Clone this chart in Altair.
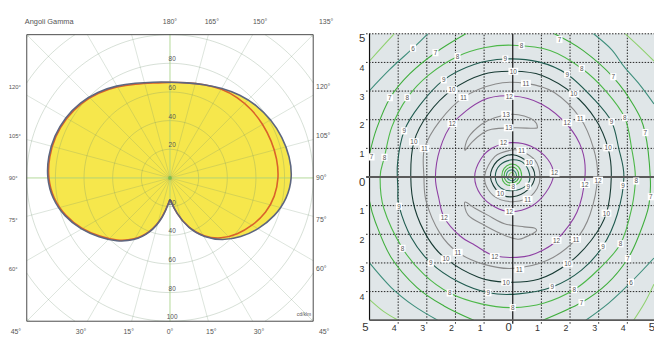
import math
import numpy as np
import pandas as pd
import altair as alt

FONT = "Liberation Sans"

# ---------------- data: polar intensity diagram (cd/klm) ----------------
GAMMA = [0, 10, 20, 30, 40, 50, 60, 70, 80, 90, 100, 110, 120, 130, 140, 150, 160, 170, 180]
C0 = [14.9, 25.0, 37.5, 48.0, 57.0, 64.5, 71.5, 78.0, 83.0, 85.5, 85.0, 83.5, 81.5, 79.0, 76.0, 72.5, 69.5, 67.5, 66.9]
C180 = [14.9, 28.5, 41.0, 50.5, 58.0, 64.5, 72.0, 78.5, 83.5, 86.0, 86.5, 86.0, 84.5, 82.0, 78.5, 74.5, 70.5, 68.0, 66.9]
C90 = [14.9, 25.0, 37.0, 47.5, 55.5, 61.5, 66.5, 71.5, 74.5, 76.0, 76.0, 75.5, 75.0, 74.5, 73.5, 72.0, 69.5, 67.5, 66.9]
C270 = [14.9, 28.0, 40.4, 49.8, 57.3, 63.8, 71.3, 77.8, 82.8, 85.3, 85.8, 85.3, 83.8, 81.3, 77.8, 73.8, 69.8, 67.3, 66.9]
RINGS = [20, 40, 60, 80, 100, 120, 140]
RAD_TOP = [20, 40, 60, 80]
RAD_BOT = [20, 40, 60, 80, 100]
TOP_ANG = [180, 165, 150, 135]
SIDE_ANG = [120, 105, 90, 75, 60]
BOT_ANG = [-45, -30, -15, 0, 15, 30, 45]

# ---------------- data: isolux contours (x, y in m) ----------------
C5_TL = [(-5.0, 4.05), (-4.55, 4.55), (-4.14, 5.0)]
C5_TR = [(3.93, 5.0), (4.45, 4.52), (4.93, 4.05)]
C5_BR = [(4.22, -5.0), (4.6, -4.4), (4.93, -3.74)]
C5_BL = [(-5.0, -4.28), (-4.5, -4.7), (-4.0, -5.0)]
C6_TL = [(-5.0, 3.02), (-4.3, 3.75), (-3.48, 4.5), (-2.97, 5.0)]
C6_TR = [(2.82, 5.0), (3.45, 4.45), (3.88, 3.86), (4.45, 3.2), (4.93, 2.55)]
C6_BR = [(2.55, -5.0), (3.35, -4.4), (4.13, -3.67), (4.93, -2.83)]
C6_BL = [(-5.0, -3.0), (-4.25, -3.85), (-3.45, -4.5), (-2.62, -5.0)]
C7_R = [(1.45, 5.0), (2.45, 4.42), (3.51, 3.48), (4.25, 2.45), (4.62, 1.55), (4.80, 0.0),
        (4.75, -1.0), (4.40, -2.05), (4.01, -2.86), (3.3, -3.72), (2.40, -4.38), (1.05, -5.0)]
C7_TL = [(-1.64, 5.0), (-2.70, 4.34), (-3.6, 3.6), (-4.28, 2.77), (-4.75, 1.7), (-5.0, 0.8)]
C7_BL = [(-5.0, -0.85), (-4.8, -1.56), (-4.25, -2.8), (-3.35, -3.85), (-2.4, -4.5), (-1.36, -5.0)]
C8 = [(4.28, 0.0), (4.15, 1.0), (3.91, 2.07), (3.25, 3.0), (2.41, 3.79), (1.3, 4.42), (0.0, 4.60),
      (-0.95, 4.52), (-1.93, 4.21), (-2.95, 3.55), (-3.68, 2.77), (-4.22, 1.75), (-4.48, 0.69),
      (-4.63, 0.0), (-4.50, -1.1), (-3.85, -2.49), (-3.1, -3.4), (-2.20, -4.05), (-1.1, -4.43),
      (0.0, -4.56), (1.1, -4.40), (2.15, -3.93), (3.0, -3.22), (3.76, -2.33), (4.15, -1.1)]
C9 = [(3.88, 0.0), (3.70, 1.0), (3.45, 1.93), (2.85, 2.7), (1.9, 3.59), (0.9, 4.02), (-0.26, 4.12),
      (-1.35, 3.93), (-2.41, 3.39), (-3.25, 2.5), (-3.79, 1.61), (-4.02, 0.5), (-4.01, -0.4),
      (-3.97, -1.02), (-3.55, -2.1), (-2.86, -3.0), (-1.9, -3.66), (-0.85, -4.04), (0.2, -4.08),
      (1.38, -3.84), (2.40, -3.25), (3.15, -2.41), (3.65, -1.3)]
C10 = [(3.44, 0.0), (3.33, 1.0), (2.90, 2.0), (2.12, 2.89), (1.0, 3.55), (0.0, 3.69), (-1.05, 3.58),
       (-2.12, 3.04), (-2.95, 2.2), (-3.45, 1.23), (-3.56, 0.0), (-3.42, -1.1), (-2.95, -2.15),
       (-2.33, -2.86), (-1.2, -3.5), (-0.23, -3.67), (0.9, -3.57), (1.92, -3.03), (2.75, -2.2),
       (3.27, -1.26)]
C11 = [(2.96, 0.0), (2.82, 1.0), (2.36, 2.05), (1.45, 2.95), (0.46, 3.27), (-0.6, 3.25), (-1.72, 2.78),
       (-2.55, 1.95), (-3.08, 1.0), (-3.10, 0.0), (-3.02, -0.86), (-2.55, -1.95), (-1.92, -2.63),
       (-1.0, -3.05), (0.0, -3.19), (1.23, -2.90), (2.21, -2.17), (2.70, -1.30)]
C12 = [(2.52, 0.0), (2.42, 0.95), (1.92, 1.80), (1.0, 2.55), (0.0, 2.83), (-1.05, 2.68), (-2.11, 1.86),
       (-2.55, 0.95), (-2.70, 0.0), (-2.58, -0.75), (-2.39, -1.42), (-1.85, -2.05), (-1.32, -2.38),
       (-0.6, -2.76), (0.4, -2.78), (1.0, -2.58), (1.53, -2.21), (2.24, -1.23)]
C13_UP = [(-1.67, 0.94), (-1.55, 1.38), (-1.09, 1.84), (-0.63, 2.07), (-0.06, 2.19), (0.40, 2.13),
          (0.75, 1.96), (0.86, 1.75), (0.75, 1.70), (0.06, 1.72), (-0.74, 1.67), (-1.09, 1.50), (-1.43, 1.21)]
C13_DN = [(-1.67, -0.88), (-1.55, -1.34), (-0.98, -1.69), (-0.29, -2.03), (0.17, -2.17), (0.46, -2.09),
          (0.81, -1.90), (0.75, -1.78), (0.40, -1.74), (-0.29, -1.63), (-0.86, -1.34), (-1.32, -1.09)]
C12_IN = [(1.42, 0.05), (1.22, 0.62), (0.62, 1.08), (-0.05, 1.20), (-0.70, 1.02), (-1.12, 0.62),
          (-1.33, 0.0), (-1.12, -0.62), (-0.62, -1.05), (-0.05, -1.21), (0.65, -1.02), (1.15, -0.55)]
C11_IN = [(0.95, 0.05), (0.78, 0.58), (0.31, 0.90), (-0.05, 0.94), (-0.62, 0.72), (-0.98, 0.05),
          (-0.78, -0.55), (-0.25, -0.84), (0.45, -0.78), (0.85, -0.40)]
C10_IN = [(0.77, 0.02), (0.55, 0.50), (0.0, 0.78), (-0.55, 0.55), (-0.78, 0.0), (-0.48, -0.55),
          (0.0, -0.69), (0.52, -0.45)]
C9_IN = [(0.60, 0.0), (0.42, 0.45), (0.0, 0.60), (-0.44, 0.42), (-0.61, 0.0), (-0.42, -0.38),
         (0.0, -0.48), (0.45, -0.32)]
C8_C = [(0.31, 0.05), (0.20, 0.35), (-0.05, 0.45), (-0.30, 0.30), (-0.38, 0.02), (-0.28, -0.22),
        (-0.03, -0.30), (0.22, -0.20)]
C7_C = [(0.21, 0.06), (0.13, 0.28), (-0.05, 0.35), (-0.24, 0.24), (-0.30, 0.03), (-0.22, -0.15),
        (-0.04, -0.21), (0.15, -0.13)]
C6_C = [(0.13, 0.06), (0.07, 0.20), (-0.05, 0.25), (-0.18, 0.18), (-0.22, 0.04), (-0.16, -0.07),
        (-0.04, -0.13), (0.09, -0.07)]
C5_C = [(0.05, 0.06), (0.02, 0.13), (-0.05, 0.16), (-0.11, 0.11), (-0.14, 0.04), (-0.10, -0.02),
        (-0.04, -0.05), (0.03, -0.02)]

CONTOURS = [
    ("5", False, C5_TL), ("5", False, C5_TR), ("5", False, C5_BR), ("5", False, C5_BL),
    ("6", False, C6_TL), ("6", False, C6_TR), ("6", False, C6_BR), ("6", False, C6_BL),
    ("7", False, C7_R), ("7", False, C7_TL), ("7", False, C7_BL),
    ("8", True, C8), ("9", True, C9), ("10", True, C10), ("11", True, C11), ("12", True, C12),
    ("13", True, C13_UP), ("13", True, C13_DN),
    ("12", True, C12_IN), ("11", True, C11_IN), ("10", True, C10_IN), ("9", True, C9_IN),
    ("8", True, C8_C), ("7", True, C7_C), ("6", True, C6_C), ("5", True, C5_C),
]

CONTOUR_LABELS = [
    (-3.48, 4.50, "6"), (4.13, -3.67, "6"),
    (1.63, 4.80, "7"), (3.51, 3.50, "7"), (4.63, 1.55, "7"), (4.82, -0.69, "7"),
    (4.02, -2.85, "7"), (2.40, -4.38, "7"), (-2.70, 4.34, "7"), (-4.29, 2.77, "7"), (-4.93, 0.70, "7"),
    (0.31, 4.59, "8"), (-1.93, 4.21, "8"), (-3.68, 2.77, "8"), (2.41, 3.79, "8"), (3.91, 2.07, "8"),
    (4.31, -0.14, "8"), (3.76, -2.33, "8"), (2.15, -3.93, "8"), (0.0, -4.56, "8"), (-2.20, -4.05, "8"),
    (-3.85, -2.49, "8"), (-4.48, 0.69, "8"),
    (-0.26, 4.12, "9"), (1.90, 3.59, "9"), (3.45, 1.93, "9"), (3.85, -0.29, "9"), (3.15, -2.41, "9"),
    (1.38, -3.84, "9"), (-0.85, -4.04, "9"), (-2.86, -3.00, "9"), (-3.97, -1.02, "9"), (-3.79, 1.61, "9"),
    (-2.41, 3.39, "9"),
    (0.02, 3.69, "10"), (2.13, 2.90, "10"), (3.33, 1.02, "10"), (3.27, -1.26, "10"), (1.92, -3.03, "10"),
    (-0.23, -3.67, "10"), (-2.33, -2.86, "10"), (-3.45, 1.23, "10"), (-2.12, 3.04, "10"),
    (0.46, 3.27, "11"), (2.36, 2.05, "11"), (2.98, -0.11, "12"), (2.21, -2.17, "11"), (0.23, -3.22, "11"),
    (-1.92, -2.63, "11"), (-3.08, 1.00, "11"), (-1.72, 2.78, "11"),
    (-0.12, 2.82, "12"), (1.90, 1.90, "12"), (-2.11, 1.86, "12"), (-2.39, -1.42, "12"), (-0.63, -2.78, "12"),
    (1.53, -2.21, "12"), (2.52, -0.26, "12"),
    (-0.23, 2.19, "13"), (-0.14, 1.72, "13"),
    (-0.32, 1.19, "12"), (-0.11, -1.21, "12"), (1.46, 0.14, "12"),
    (0.31, 0.92, "11"), (0.52, -0.78, "11"),
    (0.58, 0.50, "10"), (-0.43, -0.57, "10"),
    (0.54, -0.32, "9"), (0.02, -0.34, "8"),
]
LEVELS = ["5", "6", "7", "8", "9", "10", "11", "12", "13"]
LEVEL_COLORS = ["#8fd16f", "#3e8f7c", "#3fae3c", "#4cb848", "#1f5b4f", "#173a33", "#8a8a8a", "#8e3fa3", "#8a8a8a"]
TICKS = [-5, -4, -3, -2, -1, 0, 1, 2, 3, 4, 5]

W, H = 654, 330

# ======================= LEFT (polar) =======================
LX = alt.Scale(domain=[-113.1, 337.93], nice=False, zero=False)
LY = alt.Scale(domain=[-110.3, 117.2], nice=False, zero=False)


def lx(f):
    return alt.X(f, type="quantitative", scale=LX, axis=None)


def ly(f):
    return alt.Y(f, type="quantitative", scale=LY, axis=None)


rows = []
for name, left, right in [("C0-C180", C180, C0), ("C90-C270", C270, C90)]:
    o = 0
    for g, v in zip(GAMMA, left):
        rows.append(dict(curve=name, o=o, gamma=g, r=v, side=-1))
        o += 1
    for g, v in list(zip(GAMMA, right))[::-1][1:]:
        rows.append(dict(curve=name, o=o, gamma=g, r=v, side=1))
        o += 1
curve_df = pd.DataFrame(rows)

base_curve = alt.Chart(curve_df).transform_calculate(
    px="datum.side * datum.r * sin(datum.gamma * PI / 180)",
    py="-datum.r * cos(datum.gamma * PI / 180)",
)

fill_layer = base_curve.transform_filter("datum.curve == 'C0-C180'").mark_line(
    interpolate="basis", fill="#f6e74c", strokeWidth=0, clip=True
).encode(x=lx("px"), y=ly("py"), order="o:Q")

grows = []
for r in RINGS:
    if r <= 100:
        th = np.linspace(0, 2 * np.pi, 181)
        for k, t in enumerate(th):
            grows.append(dict(ring=r, seg=0, o=k, x=r * math.cos(t), y=r * math.sin(t)))
    else:
        t0, t1 = math.acos(100 / r), math.asin(100 / r)
        for q in range(4):
            th = np.linspace(t0, t1, 25) + q * np.pi / 2
            for k, t in enumerate(th):
                grows.append(dict(ring=r, seg=q + 1, o=k, x=r * math.cos(t), y=r * math.sin(t)))
ring_df = pd.DataFrame(grows)
ring_df["key"] = ring_df["ring"].astype(str) + "_" + ring_df["seg"].astype(str)

rings_layer = alt.Chart(ring_df).mark_line(color="#6f8f6f", opacity=0.35, strokeWidth=0.8, clip=True).encode(
    x=lx("x"), y=ly("y"), detail="key:N", order="o:Q")

srows = []
for a in range(0, 360, 15):
    dx, dy = math.sin(math.radians(a)), -math.cos(math.radians(a))
    t = 100 / max(abs(dx), abs(dy))
    srows.append(dict(x=0.0, y=0.0, x2=t * dx, y2=t * dy, main=(a % 90 == 0)))
spoke_df = pd.DataFrame(srows)
spokes_layer = alt.Chart(spoke_df).transform_filter("!datum.main").mark_rule(
    color="#6f8f6f", opacity=0.3, strokeWidth=0.8, clip=True).encode(
    x=lx("x"), y=ly("y"), x2=alt.X2("x2"), y2=alt.Y2("y2"))
main_axes = alt.Chart(spoke_df).transform_filter("datum.main").mark_rule(
    color="#9fcf7f", opacity=0.8, strokeWidth=1, clip=True).encode(
    x=lx("x"), y=ly("y"), x2=alt.X2("x2"), y2=alt.Y2("y2"))

orange_line = base_curve.transform_filter("datum.curve == 'C90-C270'").mark_line(
    interpolate="basis", color="#d9622b", strokeWidth=1.6, clip=True
).encode(x=lx("px"), y=ly("py"), order="o:Q")
outer_line = base_curve.transform_filter("datum.curve == 'C0-C180'").mark_line(
    interpolate="basis", color="#5d6680", strokeWidth=1.6, clip=True
).encode(x=lx("px"), y=ly("py"), order="o:Q")

box_df = pd.DataFrame([dict(x=-100, x2=100, y=-100, y2=100)])
box_layer = alt.Chart(box_df).mark_rect(fill=None, filled=False, stroke="#4a4a4a", strokeWidth=1, clip=True).encode(
    x=lx("x"), x2=alt.X2("x2"), y=ly("y"), y2=alt.Y2("y2"))

center_df = pd.DataFrame([dict(x=0.0, y=0.0)])
center_layer = alt.Chart(center_df).mark_point(filled=True, color="#7cc04a", size=14, opacity=1, clip=True).encode(
    x=lx("x"), y=ly("y"))

trows = []
for v in RAD_TOP:
    trows.append(dict(x=1.5, y=v + 2.7, t=str(v), al="center", fs=6.5))
for v in RAD_BOT:
    trows.append(dict(x=1.5, y=-v + 2.7, t=str(v), al="center", fs=6.5))
for g in TOP_ANG:
    trows.append(dict(x=109 * math.tan(math.radians(180 - g)), y=109, t=f"{g}°", al="center", fs=7))
for g in SIDE_ANG:
    yy = 110.3 * math.tan(math.radians(g - 90))
    trows.append(dict(x=-112.6, y=yy, t=f"{g}°", al="left", fs=6))
    trows.append(dict(x=102.0, y=yy, t=f"{g}°", al="left", fs=7))
for g in BOT_ANG:
    trows.append(dict(x=107.6 * math.tan(math.radians(g)), y=-107.6, t=f"{abs(g)}°", al="center", fs=7))
trows.append(dict(x=-101.4, y=109, t="Angoli Gamma", al="left", fs=7.5))
trows.append(dict(x=98.5, y=-95.2, t="cd/klm", al="right", fs=5))
ltext_df = pd.DataFrame(trows)

ltext_layers = []
for al in ["left", "center", "right"]:
    ltext_layers.append(
        alt.Chart(ltext_df).transform_filter(f"datum.al == '{al}'").mark_text(
            align=al, baseline="middle", font=FONT, color="#555555", clip=True).encode(
            x=lx("x"), y=ly("y"), text="t:N", size=alt.Size("fs:Q", scale=None)))

left = alt.layer(fill_layer, rings_layer, spokes_layer, main_axes, orange_line, outer_line,
                 box_layer, center_layer, *ltext_layers)

# ======================= RIGHT (isolux) =======================
RXS = alt.Scale(domain=[-17.621, 4.931], nice=False, zero=False)
RYS = alt.Scale(domain=[-5.55, 5.83], nice=False, zero=False)


def rx(f):
    return alt.X(f, type="quantitative", scale=RXS, axis=None)


def ry(f):
    return alt.Y(f, type="quantitative", scale=RYS, axis=None)


white_df = pd.DataFrame([dict(x=-6.24, x2=5, y=-6, y2=6)])
white_layer = alt.Chart(white_df).mark_rect(color="white", clip=True).encode(
    x=rx("x"), x2=alt.X2("x2"), y=ry("y"), y2=alt.Y2("y2"))

bg_df = pd.DataFrame([dict(x=-5, x2=5, y=-5, y2=5)])
bg_layer = alt.Chart(bg_df).mark_rect(color="#e0e6e8", clip=True).encode(
    x=rx("x"), x2=alt.X2("x2"), y=ry("y"), y2=alt.Y2("y2"))

grid_rows = []
for v in TICKS:
    if v in (0, -5):
        continue
    grid_rows.append(dict(x=v, x2=v, y=-5.12, y2=5))
    grid_rows.append(dict(x=-5.12, x2=5, y=v, y2=v))
grid_df = pd.DataFrame(grid_rows)
grid_layer = alt.Chart(grid_df).mark_rule(color="#222222", strokeWidth=1, strokeDash=[1.5, 1.5], clip=True).encode(
    x=rx("x"), x2=alt.X2("x2"), y=ry("y"), y2=alt.Y2("y2"))

ax_df = pd.DataFrame([dict(x=0, x2=0, y=-5.12, y2=5), dict(x=-5, x2=-5, y=-5, y2=5)])
ax_v = alt.Chart(ax_df).mark_rule(color="#111111", strokeWidth=1.2, clip=True).encode(
    x=rx("x"), x2=alt.X2("x2"), y=ry("y"), y2=alt.Y2("y2"))
axh_df = pd.DataFrame([dict(x=-5.12, x2=5, y=0, y2=0), dict(x=-5, x2=5, y=-5, y2=-5)])
ax_h = alt.Chart(axh_df).mark_rule(color="#5a5a5a", strokeWidth=1.8, clip=True).encode(
    x=rx("x"), x2=alt.X2("x2"), y=ry("y"), y2=alt.Y2("y2"))

crow = []
for cid, (lev, closed, pts) in enumerate(CONTOURS):
    for j, (x, y) in enumerate(pts):
        crow.append(dict(cid=cid, lev=lev, closed=closed, o=j, x=x, y=y))
cont_df = pd.DataFrame(crow)
color_enc = alt.Color("lev:N", scale=alt.Scale(domain=LEVELS, range=LEVEL_COLORS), legend=None)

open_layer = alt.Chart(cont_df).transform_filter("!datum.closed").mark_line(
    interpolate="cardinal", strokeWidth=1.1, clip=True).encode(
    x=rx("x"), y=ry("y"), color=color_enc, detail="cid:N", order="o:Q")
closed_layer = alt.Chart(cont_df).transform_filter("datum.closed").mark_line(
    interpolate="cardinal-closed", strokeWidth=1.1, clip=True).encode(
    x=rx("x"), y=ry("y"), color=color_enc, detail="cid:N", order="o:Q")

lab_df = pd.DataFrame(CONTOUR_LABELS, columns=["x", "y", "t"])
lab_df["shp"] = np.where(lab_df["t"].str.len() > 1, "M-1,-0.72H1V0.72H-1Z", "M-0.62,-0.72H0.62V0.72H-0.62Z")
lab_box = alt.Chart(lab_df).mark_point(filled=True, color="white", opacity=1, size=100, strokeWidth=0, clip=True).encode(
    x=rx("x"), y=ry("y"), shape=alt.Shape("shp:N", scale=None))
lab_txt = alt.Chart(lab_df).mark_text(fontSize=6.5, color="#555555", font=FONT, baseline="middle", dy=0.5,
                                      clip=True).encode(x=rx("x"), y=ry("y"), text="t:N")

tick_rows = []
for v in TICKS:
    tick_rows.append(dict(x=v - 0.14, y=-5.29, t=str(abs(v)), fs=11.5 if abs(v) in (0, 5) else 9))
for v in TICKS[::-1]:
    if v == -5:
        continue
    tick_rows.append(dict(x=-5.26, y=v - 0.2, t=str(abs(v)), fs=11.5 if abs(v) in (0, 5) else 9))
tick_df = pd.DataFrame(tick_rows)
tick_layer = alt.Chart(tick_df).mark_text(font=FONT, color="#333333", baseline="middle", align="center",
                                          clip=True).encode(
    x=rx("x"), y=ry("y"), text="t:N", size=alt.Size("fs:Q", scale=None))

right = alt.layer(white_layer, bg_layer, grid_layer, open_layer, closed_layer, ax_v, ax_h, lab_box, lab_txt,
                  tick_layer)

chart = alt.layer(left, right).resolve_scale(x="independent", y="independent").properties(
    width=W, height=H, padding={"left": 0, "top": 0, "right": 0, "bottom": 0}, background="white"
).configure_view(stroke=None)

chart.save("out.html", embed_options={"renderer": "svg", "actions": False})
